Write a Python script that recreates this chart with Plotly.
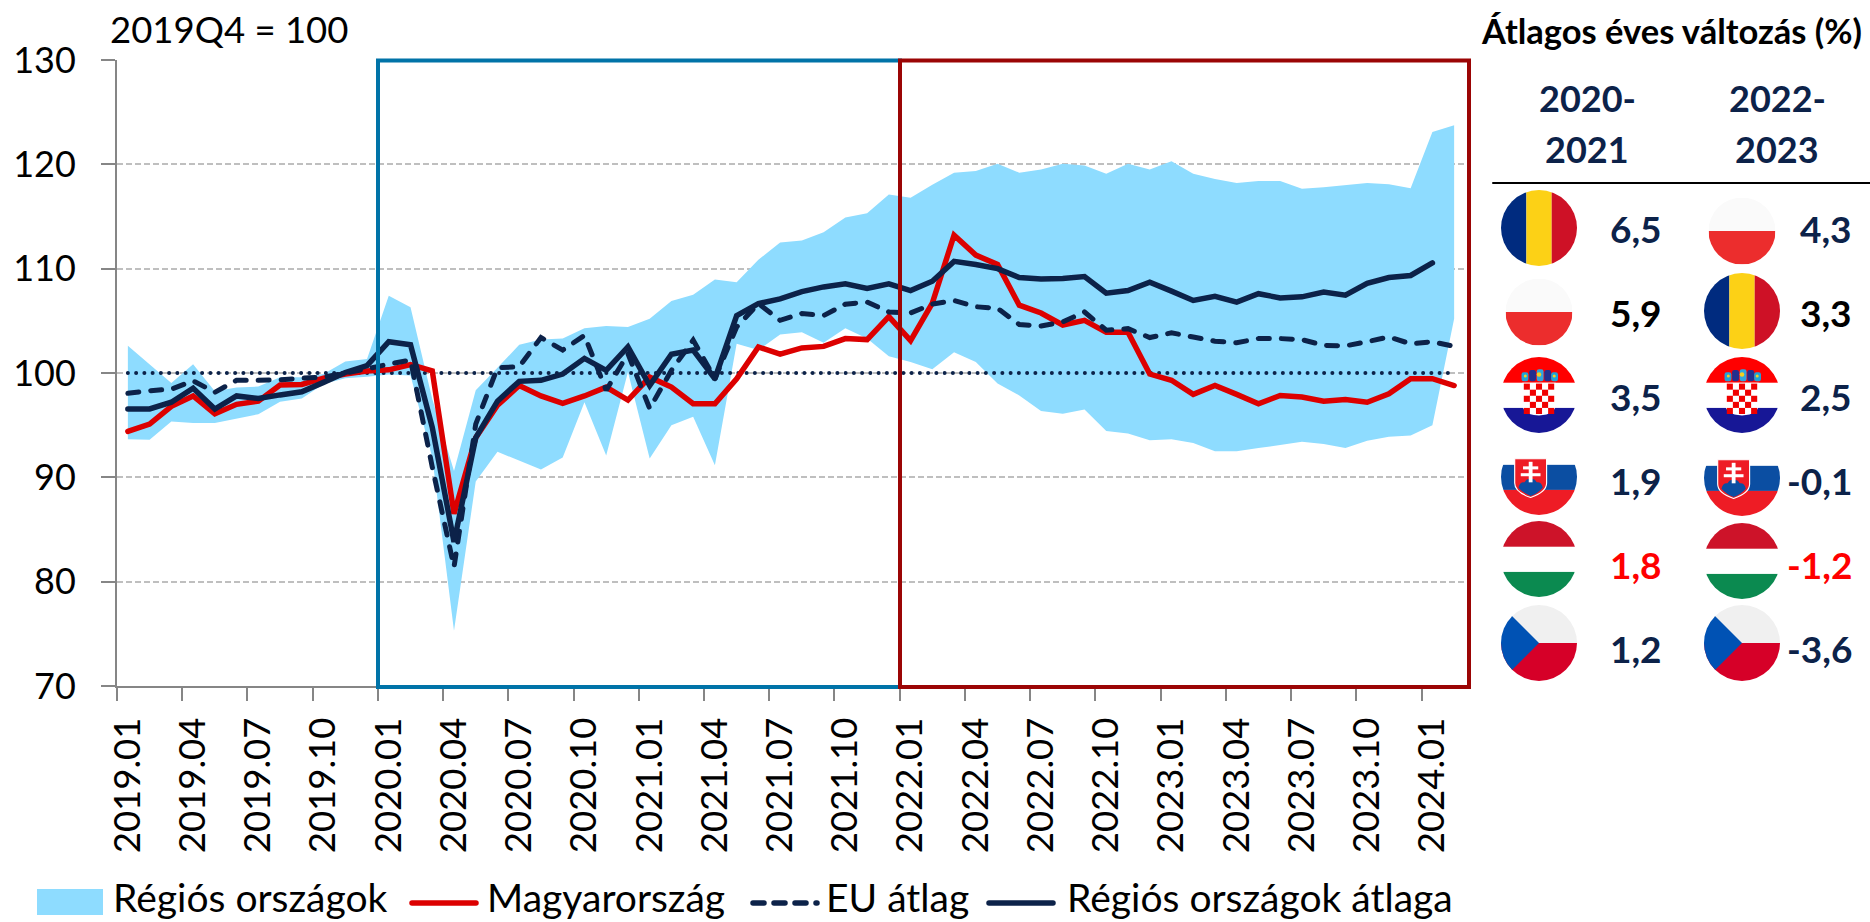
import base64
import plotly.graph_objects as go

years = [2019, 2020, 2021, 2022, 2023]
months = [f"{y}.{m:02d}" for y in years for m in range(1, 13)] + ["2024.01", "2024.02"]

magyarorszag = [94.4, 95.1, 96.8, 97.8, 96.1, 97.0, 97.3, 98.85, 98.9, 99.5, 99.9, 100.2,
                100.3, 100.8, 100.2, 86.5, 93.8, 96.9, 98.8, 97.8, 97.1, 97.8, 98.65, 97.4,
                99.6, 98.65, 97.05, 97.05, 99.45, 102.5, 101.8, 102.4, 102.55, 103.3, 103.2, 105.4,
                103.1, 106.7, 113.2, 111.3, 110.4, 106.5, 105.75, 104.6, 105.05, 103.9, 103.9, 99.9,
                99.3, 97.95, 98.8, 97.95, 97.05, 97.85, 97.7, 97.3, 97.45, 97.2, 98.0, 99.45,
                99.45, 98.8]
eu_atlag = [98.05, 98.3, 98.45, 99.25, 98.15, 99.3, 99.3, 99.35, 99.5, 99.6, 100.0, 100.4,
            100.85, 101.25, 91.0, 81.4, 95.1, 100.5, 100.6, 103.4, 102.2, 103.6, 98.35, 101.85,
            96.6, 100.25, 103.15, 99.45, 104.4, 106.65, 105.05, 105.7, 105.5, 106.6, 106.8, 105.85,
            105.75, 106.6, 106.95, 106.35, 106.2, 104.65, 104.5, 104.9, 105.85, 104.1, 104.25, 103.4,
            103.85, 103.45, 103.05, 102.9, 103.3, 103.3, 103.2, 102.65, 102.6, 103.0, 103.45, 102.8,
            103.0, 102.55]
regios_atlag = [96.55, 96.55, 97.2, 98.55, 96.55, 97.8, 97.55, 97.9, 98.2, 99.1, 100.05, 100.7,
                103.0, 102.7, 94.8, 83.8, 93.8, 97.3, 99.2, 99.3, 99.9, 101.4, 100.25, 102.5,
                98.8, 101.8, 102.2, 99.45, 105.5, 106.65, 107.1, 107.8, 108.25, 108.55, 108.1, 108.55,
                107.9, 108.8, 110.7, 110.4, 110.0, 109.15, 109.0, 109.05, 109.25, 107.65, 107.9, 108.7,
                107.85, 106.95, 107.35, 106.8, 107.6, 107.2, 107.3, 107.75, 107.45, 108.6, 109.15, 109.35,
                110.55, None]
regios_felso = [102.6, 100.85, 99.05, 100.85, 98.25, 98.6, 98.7, 99.6, 99.6, 99.9, 101.1, 101.35,
                107.4, 106.3, 97.5, 90.6, 98.35, 100.5, 102.7, 103.2, 103.3, 104.3, 104.5, 104.4,
                105.2, 106.9, 107.5, 108.95, 108.7, 110.85, 112.5, 112.7, 113.5, 114.9, 115.3, 117.1,
                116.8, 118.05, 119.2, 119.35, 120.05, 119.2, 119.5, 120.05, 119.9, 119.1, 120.05, 119.5,
                120.3, 119.1, 118.6, 118.2, 118.4, 118.4, 117.65, 117.8, 118.0, 118.2, 118.1, 117.7,
                123.1, 123.75]
regios_also = [93.65, 93.6, 95.35, 95.2, 95.2, 95.65, 96.05, 97.25, 97.55, 98.95, 99.5, 99.65,
               99.85, 99.75, 91.9, 75.3, 89.6, 92.45, 91.6, 90.75, 91.9, 97.2, 92.1, 100.1,
               91.8, 95.0, 95.8, 91.15, 102.8, 102.2, 103.7, 103.9, 102.9, 104.3, 103.3, 101.6,
               101.05, 100.35, 102.0, 101.05, 99.0, 97.85, 96.35, 96.1, 96.5, 94.45, 94.2, 93.55,
               93.65, 93.3, 92.5, 92.5, 92.8, 93.1, 93.4, 93.2, 92.8, 93.5, 93.9, 94.0,
               95.0, 105.2]
bazis = [100] * len(months)

orszagok_2020 = ["ro", "pl", "hr", "sk", "hu", "cz"]
ertekek_2020 = ["6,5", "5,9", "3,5", "1,9", "1,8", "1,2"]
orszagok_2022 = ["pl", "ro", "hr", "sk", "hu", "cz"]
ertekek_2022 = ["4,3", "3,3", "2,5", "-0,1", "-1,2", "-3,6"]
legend_nevek = ["Régiós országok", "Magyarország", "EU átlag", "Régiós országok átlaga"]

NAVY = "#0C2249"; RED = "#DC0000"; BAND = "#8EDCFF"; GRID = "#BFBFBF"; AXIS = "#868686"
FONT = "Lato"
W, H = 1870, 922
L, R, T, B = 117, 1465, 60, 686
px = lambda x: (x - L) / (R - L)
py = lambda y: (B - y) / (B - T)

fig = go.Figure()
fig.add_trace(go.Scatter(x=months, y=regios_also, mode="lines", line=dict(width=0, color=BAND),
                         showlegend=False, hoverinfo="skip"))
fig.add_trace(go.Scatter(x=months, y=regios_felso, mode="lines", line=dict(width=0, color=BAND),
                         fill="tonexty", fillcolor=BAND, showlegend=False, hoverinfo="skip"))
fig.add_trace(go.Scatter(x=months, y=bazis, mode="lines", showlegend=False, hoverinfo="skip",
                         line=dict(color=NAVY, width=4, dash="0px,8.25px")))
fig.add_trace(go.Scatter(x=months, y=magyarorszag, mode="lines", showlegend=False,
                         line=dict(color=RED, width=5.5, simplify=False)))
fig.add_trace(go.Scatter(x=months, y=eu_atlag, mode="lines", showlegend=False,
                         line=dict(color=NAVY, width=5, dash="11px,12px", simplify=False)))
fig.add_trace(go.Scatter(x=months, y=regios_atlag, mode="lines", showlegend=False,
                         line=dict(color=NAVY, width=5.5, simplify=False)))


def flag_svg(code):
    d = {"ro": '<rect x="0" width="33.4" height="100" fill="#002B7F"/><rect x="33.4" width="33.3" height="100" fill="#FCD116"/><rect x="66.7" width="33.3" height="100" fill="#CE1126"/>',
         "pl": '<rect width="100" height="50" fill="#FAFAFA"/><rect y="50" width="100" height="50" fill="#EC2D2D"/>',
         "hu": '<rect width="100" height="34" fill="#CD1329"/><rect y="34" width="100" height="33" fill="#FFFFFF"/><rect y="67" width="100" height="33" fill="#0B8A50"/>',
         "cz": '<rect width="100" height="50" fill="#F0F0F0"/><rect y="50" width="100" height="50" fill="#D60028"/><path d="M0,0L50,50L0,100Z" fill="#0052B4"/>',
         }
    over = ""
    if code == "hr":
        cells = ""
        for r in range(5):
            for c in range(5):
                if (r + c) % 2 == 0:
                    cells += f'<rect x="{30+8*c}" y="{35+8*r}" width="8" height="8" fill="#F00000"/>'
        body = ('<rect width="100" height="34" fill="#FF0000"/><rect y="34" width="100" height="33" fill="#FFFFFF"/>'
                '<rect y="67" width="100" height="33" fill="#171796"/>'
                '<path d="M28,34H72V62Q72,76 50,77Q28,76 28,62Z" fill="#FFFFFF"/>' + cells +
                '<rect x="27" y="20" width="9" height="12" rx="3" fill="#1FA3D8"/><rect x="37" y="17" width="9" height="15" rx="3" fill="#232F8E"/>'
                '<rect x="47" y="16" width="9" height="16" rx="3" fill="#2FA6E0"/><rect x="57" y="17" width="9" height="15" rx="3" fill="#232F8E"/>'
                '<rect x="66" y="20" width="9" height="12" rx="3" fill="#1FA3D8"/>'
                '<circle cx="50" cy="23" r="3" fill="#F5D020"/><circle cx="32" cy="25" r="2" fill="#F5D020"/><circle cx="70" cy="25" r="2" fill="#F5D020"/>')
    elif code == "sk":
        body = ('<rect width="100" height="34" fill="#FFFFFF"/><rect y="34" width="100" height="33" fill="#0B4EA2"/>'
                '<rect y="67" width="100" height="33" fill="#EE1C25"/>')
        over = ('<path d="M18,26H60V58Q60,70 39,77Q18,70 18,58Z" fill="#EE1C25" stroke="#FFFFFF" stroke-width="1.5"/>'
                '<path d="M23,64Q25,56 31,57Q34,51 39,53Q44,51 47,57Q53,56 55,64Q49,71 39,75Q29,71 23,64Z" fill="#0B4EA2"/>'
                '<rect x="36.5" y="30" width="5" height="27" fill="#FFFFFF"/><rect x="29" y="36" width="20" height="4" fill="#FFFFFF"/>'
                '<rect x="26" y="45" width="26" height="4" fill="#FFFFFF"/>')
    else:
        body = d[code]
    svg = ('<svg xmlns="http://www.w3.org/2000/svg" width="200" height="200" viewBox="0 0 100 100">'
           '<defs><clipPath id="c"><circle cx="50" cy="50" r="50"/></clipPath></defs>'
           f'<g clip-path="url(#c)">{body}</g>{over}</svg>')
    return "data:image/svg+xml;base64," + base64.b64encode(svg.encode()).decode()


diam = {"ro": 76, "pl": 67, "hr": 76, "sk": 76, "hu": 76, "cz": 76}
col1_y = [228, 312, 395, 477, 559, 643]
col2_y = [231, 311, 395, 478, 561, 643]
images = []
for code, y in zip(orszagok_2020, col1_y):
    images.append((code, 1539, y))
for code, y in zip(orszagok_2022, col2_y):
    images.append((code, 1742, y))
layout_images = [dict(source=flag_svg(c), xref="paper", yref="paper", x=px(x), y=py(y),
                      sizex=diam[c] / (R - L), sizey=diam[c] / (B - T), xanchor="center", yanchor="middle",
                      sizing="stretch", layer="above") for c, x, y in images]


def text(s, x, y, size, color="#000000", anchor="left", bold=False):
    return dict(text=f"<b>{s}</b>" if bold else s, xref="paper", yref="paper", x=px(x), y=py(y), showarrow=False,
                xanchor=anchor, yanchor="middle", align=anchor, font=dict(family=FONT, size=size, color=color))


ann = [text("2019Q4 = 100", 108, 29, 36.5),
       text("Átlagos éves változás (%)", 1479, 31, 34.5, anchor="left", bold=True),
       text("2020-", 1587, 98, 36, NAVY, "center", True), text("2021", 1587, 149, 36, NAVY, "center", True),
       text("2022-", 1777, 98, 36, NAVY, "center", True), text("2023", 1777, 149, 36, NAVY, "center", True)]
val_y = [228, 312, 396, 480, 564, 648]
for i, (a, b, y) in enumerate(zip(ertekek_2020, ertekek_2022, val_y)):
    c1 = "#000000" if a == "5,9" else "#FF0000" if a == "1,8" else NAVY
    c2 = "#000000" if b == "3,3" else "#FF0000" if b == "-1,2" else NAVY
    ann.append(text(a, 1664, y, 37, c1, "right", True))
    ann.append(text(b, 1854, y, 37, c2, "right", True))

leg_y = 903
for s, x in zip(legend_nevek, [111, 485, 824, 1065]):
    ann.append(text(s, x, 897, 39))


def pshape(kind, x0, y0, x1, y1, **kw):
    return dict(type=kind, xref="paper", yref="paper", x0=px(x0), x1=px(x1), y0=py(y0), y1=py(y1), layer="above", **kw)


shapes = [pshape("rect", 378, 60.5, 900, 687, line=dict(color="#0073A8", width=4)),
          pshape("rect", 900, 60.5, 1469, 687, line=dict(color="#9B0505", width=4)),
          pshape("line", 1493, 183, 1870, 183, line=dict(color="#000000", width=2)),
          pshape("rect", 37, 889, 103, 915, fillcolor=BAND, line=dict(width=0)),
          pshape("line", 412, leg_y, 476, leg_y, line=dict(color=RED, width=5.5)),
          pshape("line", 753, leg_y, 817, leg_y, line=dict(color=NAVY, width=5.5, dash="11px,10px")),
          pshape("line", 989, leg_y, 1053, leg_y, line=dict(color=NAVY, width=5.5))]

fig.update_layout(
    width=W, height=H, margin=dict(l=L, r=W - R, t=T, b=H - B), autosize=False,
    paper_bgcolor="white", plot_bgcolor="white", showlegend=False,
    font=dict(family=FONT, size=35, color="#000000"),
    shapes=shapes, annotations=ann, images=layout_images,
    xaxis=dict(type="category", categoryorder="array", categoryarray=months, range=[-0.5, 61.5],
               tickson="boundaries", dtick=3, tick0=0, tickangle=-90, ticks="outside", ticklen=13,
               tickwidth=2, tickcolor=AXIS, showline=True, linecolor=AXIS, linewidth=2, showgrid=False,
               tickfont=dict(family=FONT, size=36.5), ticklabelstandoff=15, automargin=False),
    yaxis=dict(range=[70, 130], dtick=10, ticks="outside", ticklen=14, tickwidth=2, tickcolor=AXIS,
               showline=True, linecolor=AXIS, linewidth=2, showgrid=True, gridcolor=GRID, gridwidth=1.5,
               griddash="6px,3px", zeroline=False, tickfont=dict(family=FONT, size=36),
               ticklabelstandoff=18, automargin=False),
)

post = """
document.body.style.margin='0';document.body.style.overflow='hidden';
document.querySelectorAll('.js-line').forEach(p=>p.style.strokeLinecap='round');
document.querySelectorAll('.shapelayer path').forEach(p=>p.style.strokeLinecap='round');
"""
fig.write_html("out.html", post_script=post, config=dict(displayModeBar=False))
